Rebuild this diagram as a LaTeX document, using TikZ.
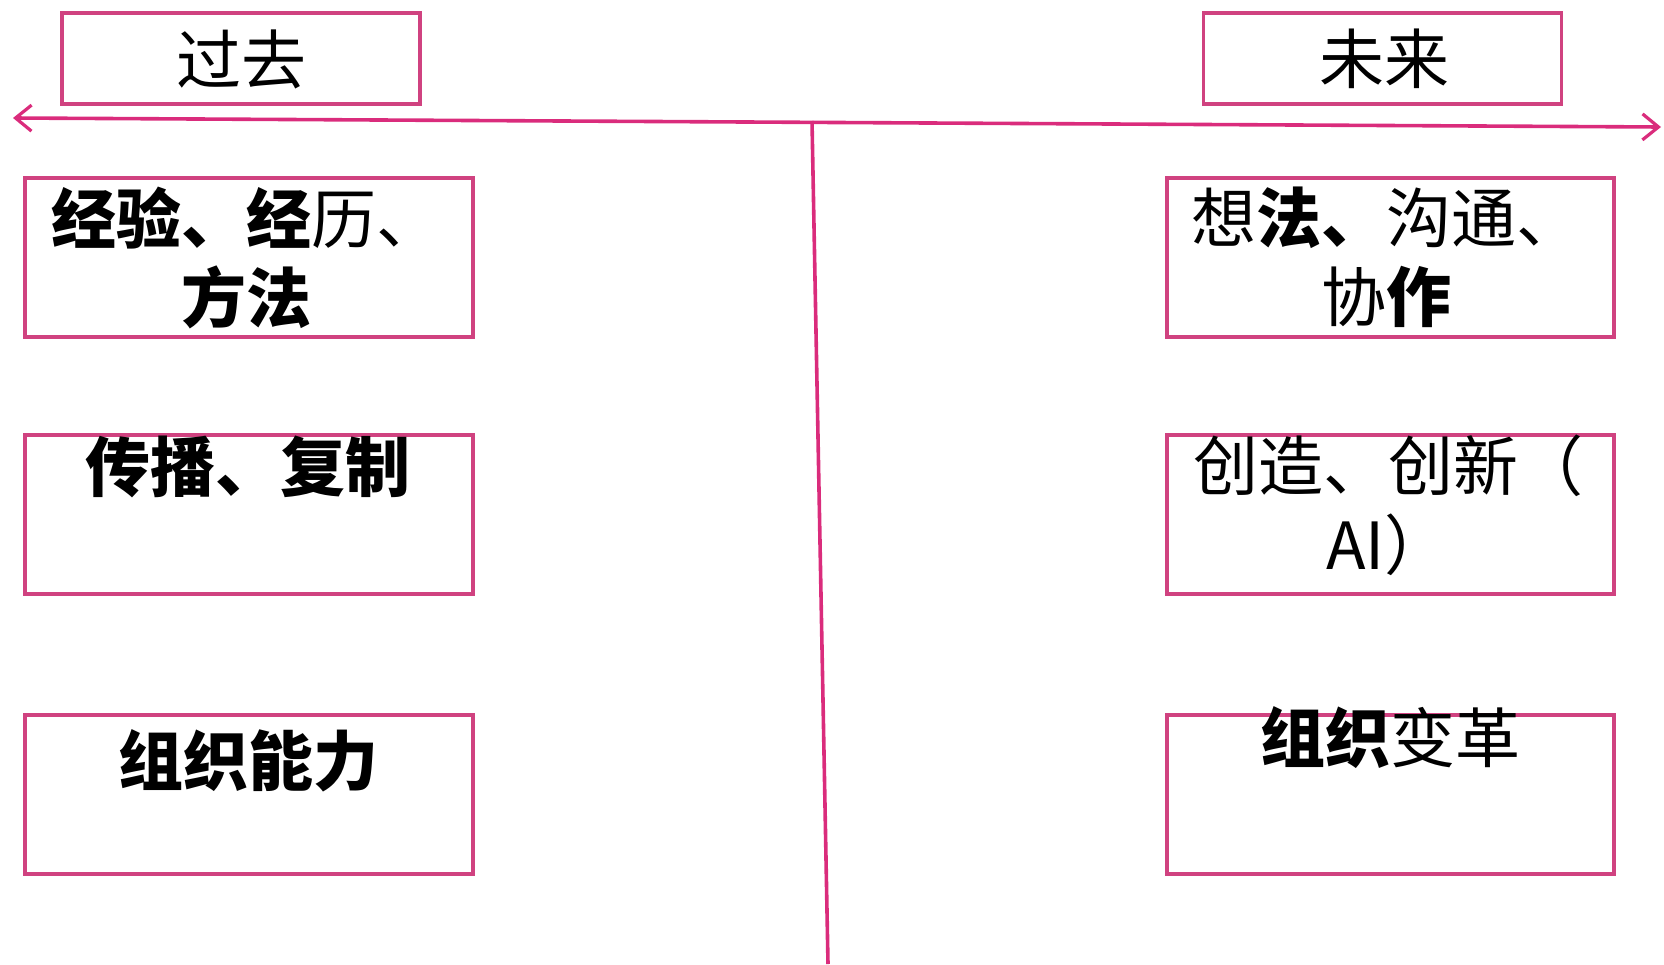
\documentclass[tikz,border=0pt]{standalone}
\usepackage{fontspec}
\newfontfamily\cjk{Noto Sans CJK SC}
\usetikzlibrary{arrows.meta}
\definecolor{pinkline}{RGB}{218,44,124}
\definecolor{pinkbox}{RGB}{208,66,128}
\tikzset{
  box/.style={draw=pinkbox, line width=3.4pt, minimum width=#1, minimum height=159pt, inner sep=0pt},
  box/.default=448pt,
  hbox/.style={draw=pinkbox, line width=3.4pt, minimum width=358pt, minimum height=91pt, inner sep=0pt},
  txt/.style={font=\cjk\fontsize{65}{79}\selectfont, align=center, inner sep=0pt, text=black},
  axis/.style={draw=pinkline, line width=3.6pt},
}
\begin{document}
\begin{tikzpicture}[x=1pt,y=-1pt]
\useasboundingbox (0,0) rectangle (1664,964);
% header boxes
\node[hbox] (pastbox) at (241,58.5) {};
\node[hbox] (futbox) at (1382.5,58.5) {};
\node[txt] (past) at (241,59) {过去};
\node[txt] (fut) at (1384,59) {未来};
% time axis
\coordinate (L) at (13,118);
\coordinate (R) at (1661,127);
\coordinate (V1) at (812,121);
\coordinate (V2) at (828,964);
\draw[axis, {Straight Barb[length=16pt,width=26pt,line width=3.2pt]}-{Straight Barb[length=16pt,width=26pt,line width=3.2pt]}] (L) -- (R);
\draw[axis] (V1) -- (V2);
% left boxes
\node[box] (b1) at (249,257.5) {};
\node[box] (b2) at (249,514.5) {};
\node[box] (b3) at (249,794.5) {};
% right boxes
\node[box=447pt] (c1) at (1390.5,257.5) {};
\node[box=447pt] (c2) at (1390.5,514.5) {};
\node[box=447pt] (c3) at (1390.5,794.5) {};
% texts
\node[txt] (t1) at (246,258) {\textbf{经验、经}历、\\\textbf{方法}};
\node[txt] (t2) at (248,467) {\textbf{传播、复制}};
\node[txt] (t3) at (248,761) {\textbf{组织能力}};
\node[txt] (u1) at (1386,257) {想\textbf{法、}沟通、\\协\textbf{作}};
\node[txt] (u2) at (1388,505) {创造、创新（\\AI）};
\node[txt] (u3) at (1390,738) {\textbf{组织}变革};
\end{tikzpicture}
\end{document}
